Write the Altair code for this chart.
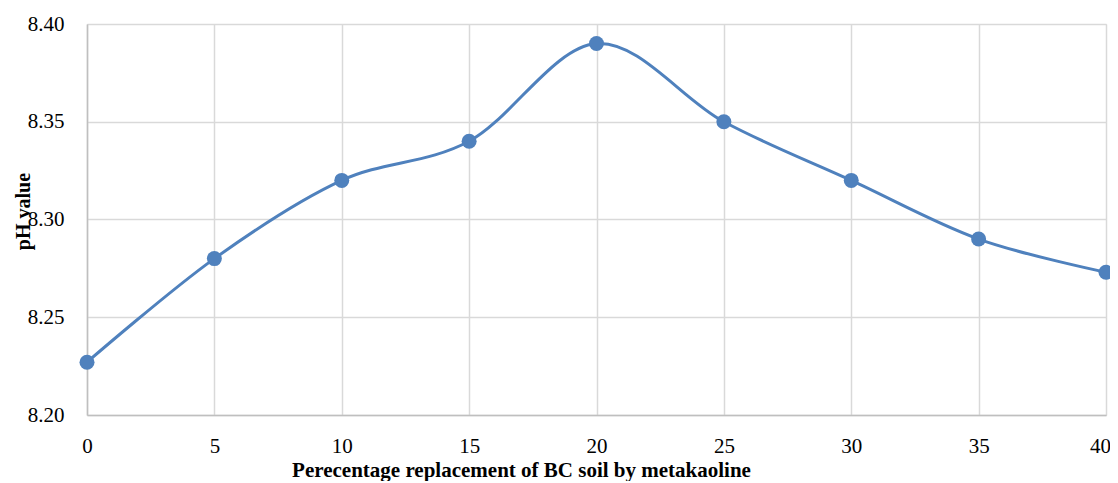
import altair as alt
import pandas as pd

replacement = [0, 5, 10, 15, 20, 25, 30, 35, 40]
ph_value = [8.227, 8.28, 8.32, 8.34, 8.39, 8.35, 8.32, 8.29, 8.273]
x_ticks = [0, 5, 10, 15, 20, 25, 30, 35, 40]
y_ticks = [8.20, 8.25, 8.30, 8.35, 8.40]

df = pd.DataFrame({"x": replacement, "y": ph_value})

FONT = "Liberation Serif"
BLUE = "#4F81BD"

x_enc = alt.X(
    "x:Q",
    scale=alt.Scale(domain=[0, 40], nice=False, zero=False),
    axis=alt.Axis(
        values=x_ticks,
        title="Perecentage replacement of BC soil by metakaoline",
        titleFont=FONT, titleFontSize=21, titleFontWeight="bold", titleColor="#000000",
        titleX=434, titleY=61, titleAlign="center", titleBaseline="alphabetic",
        labelFont=FONT, labelFontSize=21, labelColor="#000000",
        labelBaseline="alphabetic", labelPadding=37, labelFlush=False,
        labelOverlap=False,
        labelOffset=alt.condition("datum.value == 40", alt.value(-6), alt.value(0)),
        ticks=False, tickSize=0,
        domainColor="#BFBFBF", domainWidth=1.5,
        gridColor="#D9D9D9", gridWidth=1.5,
    ),
)
y_enc = alt.Y(
    "y:Q",
    scale=alt.Scale(domain=[8.2, 8.4], nice=False, zero=False),
    axis=alt.Axis(
        values=y_ticks, format=".2f",
        title="pH value",
        titleFont=FONT, titleFontSize=20, titleFontWeight="bold", titleColor="#000000",
        titleX=-58, titleY=187, titleAlign="center", titleBaseline="alphabetic", titleAngle=-90,
        labelFont=FONT, labelFontSize=21, labelColor="#000000",
        labelPadding=23, labelFlush=False,
        ticks=False, tickSize=0,
        domainColor="#BFBFBF", domainWidth=1.5,
        gridColor="#D9D9D9", gridWidth=1.5,
    ),
)

line = alt.Chart(df).mark_line(color=BLUE, strokeWidth=3, interpolate="cardinal").encode(x=x_enc, y=y_enc)
pts = alt.Chart(df).mark_point(filled=True, color=BLUE, size=225, opacity=1, shape="circle").encode(x="x:Q", y="y:Q")

chart = (
    alt.layer(line, pts)
    .properties(
        width=1019, height=391,
        autosize=alt.AutoSizeParams(type="none"),
        padding={"left": 79, "top": 16, "right": 4, "bottom": 66},
    )
    .configure_view(stroke="#D9D9D9", strokeWidth=1.5)
    .configure(background="white")
)

chart.save("out.html", embed_options={"renderer": "svg", "actions": False})
